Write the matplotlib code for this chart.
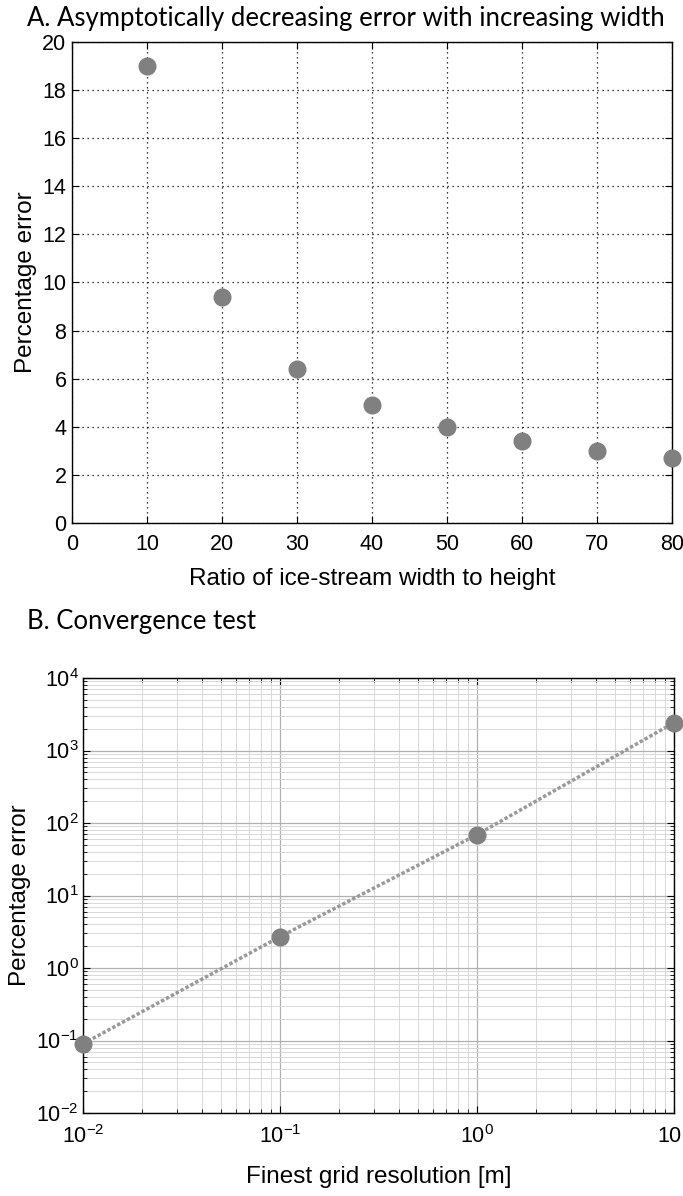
import numpy as np
import matplotlib
matplotlib.use("Agg")
import matplotlib.pyplot as plt
from matplotlib.ticker import LogLocator, NullFormatter

plt.rcParams['font.family'] = ['Liberation Sans', 'DejaVu Sans']
plt.rcParams['mathtext.fontset'] = 'custom'
plt.rcParams['mathtext.rm'] = 'Liberation Sans'
plt.rcParams['mathtext.it'] = 'Liberation Sans'
plt.rcParams['axes.unicode_minus'] = False

# panel A data
ratio = [10, 20, 30, 40, 50, 60, 70, 80]
err_a = [19.0, 9.4, 6.4, 4.9, 4.0, 3.4, 3.0, 2.7]

# panel B data
resolution = [0.01, 0.1, 1, 10]
err_b = [0.09, 2.7, 69, 2420]

grey = '#808080'
W, H = 683, 1196

fig = plt.figure(figsize=(6.83, 11.96), dpi=100)

# ---- A ----
ax1 = fig.add_axes([0.1054, 0.5627, 0.8785, 0.4022])
ax1.plot(ratio, err_a, 'o', color=grey, markersize=12, clip_on=False, zorder=3)
ax1.set_xlim(0, 80)
ax1.set_ylim(0, 20)
ax1.set_xticks(range(0, 81, 10))
ax1.set_yticks(range(0, 21, 2))
ax1.grid(True, color='black', linestyle=(0, (1, 3)), linewidth=0.9)
ax1.tick_params(direction='in', top=True, right=True, labelsize=15.5, length=5)
ax1.tick_params(axis='x', pad=8)
ax1.tick_params(axis='y', pad=4)
ax1.set_xlabel('Ratio of ice-stream width to height', fontsize=17.5, labelpad=9)
ax1.set_ylabel('Percentage error', fontsize=17.5, labelpad=4)
for s in ax1.spines.values():
    s.set_linewidth(1.0)
fig.text(27 / W, 1 - 26 / H, 'A. Asymptotically decreasing error with increasing width',
         fontsize=18.5, family=['Lato', 'DejaVu Sans'], va='baseline', ha='left')

# ---- B ----
ax2 = fig.add_axes([0.1215, 0.0694, 0.8653, 0.3637])
ax2.plot(resolution, err_b, color='#999999', linestyle=(0, (1, 0.6)), linewidth=2.5, zorder=2)
ax2.plot(resolution, err_b, 'o', color=grey, markersize=12, clip_on=False, zorder=3)
ax2.set_xscale('log')
ax2.set_yscale('log')
ax2.set_xlim(1e-2, 1e1)
ax2.set_ylim(1e-2, 1e4)
ax2.xaxis.set_major_locator(LogLocator(base=10, numticks=10))
ax2.yaxis.set_major_locator(LogLocator(base=10, numticks=10))
ax2.xaxis.set_minor_locator(LogLocator(base=10, subs=np.arange(2, 10), numticks=20))
ax2.yaxis.set_minor_locator(LogLocator(base=10, subs=np.arange(2, 10), numticks=20))
ax2.xaxis.set_minor_formatter(NullFormatter())
ax2.yaxis.set_minor_formatter(NullFormatter())
ax2.grid(True, which='major', color='#b0b0b0', linewidth=0.9)
ax2.grid(True, which='minor', color='#d8d8d8', linewidth=0.7)
ax2.tick_params(which='both', direction='in', top=True, right=True)
ax2.tick_params(which='major', labelsize=15.5, length=5)
ax2.tick_params(axis='x', which='major', pad=9)
ax2.tick_params(axis='y', which='major', pad=3)
ax2.tick_params(which='minor', length=3)
ax2.set_xlabel('Finest grid resolution [m]', fontsize=17.5, labelpad=13)
ax2.set_ylabel('Percentage error', fontsize=17.5, labelpad=4)
for s in ax2.spines.values():
    s.set_linewidth(1.0)
fig.text(27 / W, 1 - 629 / H, 'B. Convergence test',
         fontsize=18.5, family=['Lato', 'DejaVu Sans'], va='baseline', ha='left')

fig.savefig('out.png', dpi=100)
